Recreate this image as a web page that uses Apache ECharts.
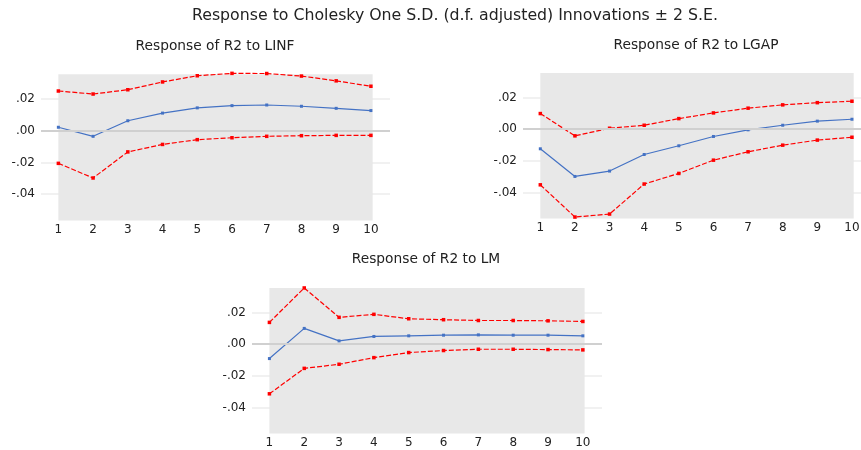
<!DOCTYPE html>
<html lang="en">
<head>
    <meta charset="utf-8">
    <title>Response to Cholesky One S.D. Innovations</title>
    <script type="text/javascript" src="https://cdn.jsdelivr.net/npm/echarts@6.0.0/dist/echarts.min.js"></script>
    <style>
        html, body { margin: 0; padding: 0; background: #fff; }
    </style>
</head>
<body>
<div id="irfChart" style="width: 861px;height:450px;"></div>
<script type="text/javascript">
    // periods 1..10
    var periods = [1, 2, 3, 4, 5, 6, 7, 8, 9, 10];

    // R2 to LINF
    var linfResp  = [0.0021, -0.0036, 0.0062, 0.0110, 0.0143, 0.0157, 0.0161, 0.0153, 0.0140, 0.0126];
    var linfUpper = [0.0249, 0.0230, 0.0257, 0.0306, 0.0345, 0.0360, 0.0359, 0.0343, 0.0313, 0.0279];
    var linfLower = [-0.0206, -0.0298, -0.0134, -0.0087, -0.0057, -0.0045, -0.0036, -0.0032, -0.0030, -0.0030];

    // R2 to LGAP
    var lgapResp  = [-0.0124, -0.0299, -0.0265, -0.0160, -0.0105, -0.0046, -0.0004, 0.0025, 0.0051, 0.0063];
    var lgapUpper = [0.0099, -0.0042, 0.0006, 0.0025, 0.0067, 0.0103, 0.0133, 0.0154, 0.0168, 0.0177];
    var lgapLower = [-0.0352, -0.0556, -0.0537, -0.0347, -0.0280, -0.0196, -0.0143, -0.0101, -0.0069, -0.0051];

    // R2 to LM
    var lmResp  = [-0.0091, 0.0100, 0.0021, 0.0049, 0.0053, 0.0057, 0.0059, 0.0057, 0.0057, 0.0053];
    var lmUpper = [0.0138, 0.0356, 0.0170, 0.0189, 0.0161, 0.0155, 0.0150, 0.0150, 0.0148, 0.0144];
    var lmLower = [-0.0314, -0.0153, -0.0127, -0.0085, -0.0053, -0.0040, -0.0032, -0.0032, -0.0034, -0.0036];

    var fontName = '"DejaVu Sans", sans-serif';
    var chart = echarts.init(document.getElementById('irfChart'));

    function pairs(vals) {
        return periods.map(function (p, i) { return [p, vals[i]]; });
    }

    function fmtTick(v) {
        if (Math.abs(v) < 1e-9) return '.00';
        return (v < 0 ? '-' : '') + Math.abs(v).toFixed(2).replace(/^0/, '');
    }

    // one grid per panel (px); second panel runs off the right edge like the original
    var grids = [
        {left: 41, width: 349, top: 67, height: 159, outerBoundsMode: 'none'},
        {left: 523, width: 348, top: 66, height: 158, outerBoundsMode: 'none'},
        {left: 252, width: 350, top: 281, height: 158, outerBoundsMode: 'none'}
    ];

    var xAxes = [], yAxes = [], series = [];
    var panels = [
        [linfResp, linfUpper, linfLower],
        [lgapResp, lgapUpper, lgapLower],
        [lmResp, lmUpper, lmLower]
    ];

    panels.forEach(function (pn, k) {
        xAxes.push({
            type: 'value', gridIndex: k, min: 0.5, max: 10.55,
            axisLine: {show: false}, axisTick: {show: false}, splitLine: {show: false},
            axisLabel: {
                customValues: periods, margin: -2,
                color: '#222', fontSize: 12, fontFamily: fontName
            }
        });
        yAxes.push({
            type: 'value', gridIndex: k, min: -0.06, max: 0.04, interval: 0.02,
            axisLine: {show: false}, axisTick: {show: false},
            axisLabel: {
                formatter: fmtTick, showMinLabel: false, showMaxLabel: false, margin: 6,
                color: '#222', fontSize: 12, fontFamily: fontName
            },
            splitLine: {
                show: true, showMinLine: false, showMaxLine: false,
                lineStyle: {color: '#ececec', width: 1.5}
            }
        });
        // gray plot box + zero line
        series.push({
            type: 'line', xAxisIndex: k, yAxisIndex: k, data: [], z: 1, silent: true,
            markArea: {
                silent: true,
                itemStyle: {color: '#e8e8e8'},
                data: [[{xAxis: 1, yAxis: -0.0565}, {xAxis: 10.05, yAxis: 0.0355}]]
            },
            markLine: {
                silent: true, symbol: 'none', label: {show: false},
                lineStyle: {color: '#d0d0d0', type: 'solid', width: 2},
                data: [{yAxis: 0}]
            }
        });
        series.push({
            type: 'line', xAxisIndex: k, yAxisIndex: k, z: 4,
            data: pairs(pn[0]),
            symbol: 'rect', symbolSize: 3, showSymbol: true,
            lineStyle: {color: '#4472c4', width: 1.2},
            itemStyle: {color: '#4472c4'}
        });
        [pn[1], pn[2]].forEach(function (band) {
            series.push({
                type: 'line', xAxisIndex: k, yAxisIndex: k, z: 3,
                data: pairs(band),
                symbol: 'rect', symbolSize: 3.5, showSymbol: true,
                lineStyle: {color: '#ff0000', width: 1.2, type: [5, 2]},
                itemStyle: {color: '#ff0000'}
            });
        });
    });

    var titleStyle = {color: '#222', fontSize: 13.75, fontWeight: 'normal', fontFamily: fontName};
    var option = {
        animation: false,
        title: [
            {text: 'Response to Cholesky One S.D. (d.f. adjusted) Innovations ± 2 S.E.', left: 455, top: 8, padding: 0,
                textAlign: 'center', textStyle: {color: '#222', fontSize: 15.75, fontWeight: 'normal', fontFamily: fontName}},
            {text: 'Response of R2 to LINF', left: 215, top: 39, padding: 0, textAlign: 'center', textStyle: titleStyle},
            {text: 'Response of R2 to LGAP', left: 696, top: 38, padding: 0, textAlign: 'center', textStyle: titleStyle},
            {text: 'Response of R2 to LM', left: 426, top: 252, padding: 0, textAlign: 'center', textStyle: titleStyle}
        ],
        grid: grids,
        xAxis: xAxes,
        yAxis: yAxes,
        series: series
    };

    chart.setOption(option);
</script>
</body>
</html>
